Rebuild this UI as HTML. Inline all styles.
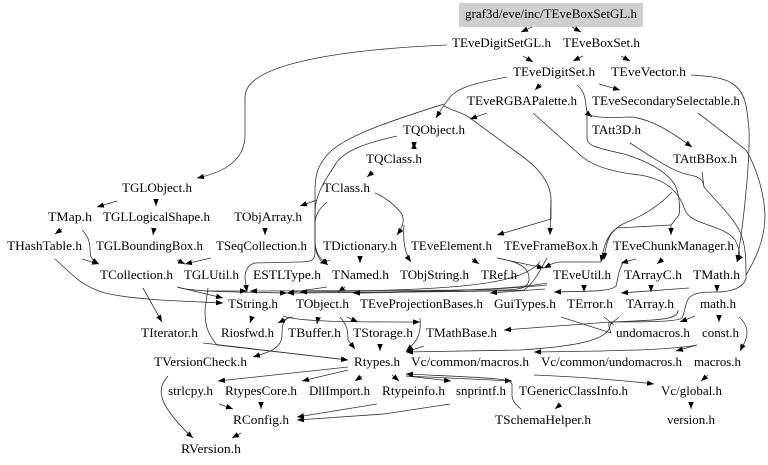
<!DOCTYPE html>
<html><head><meta charset="utf-8"><style>
html,body{margin:0;padding:0;background:#fff}
svg{display:block;filter:blur(.3px)}
text{font-family:"Liberation Serif",serif;font-size:12.8px;fill:#000;text-anchor:start}
path{fill:none;stroke:#333;stroke-width:.8}
</style></head><body>
<svg width="768" height="465" viewBox="0 0 768 465" xmlns="http://www.w3.org/2000/svg">
<defs><marker id="a" markerUnits="userSpaceOnUse" markerWidth="8" markerHeight="7" refX="7" refY="2.75" orient="auto"><polygon points="0,0 7,2.75 0,5.5" fill="#000"/></marker></defs>
<rect x="459" y="3" width="184" height="24" fill="#cfcfcf"/>
<g>
<path d="M532,27L521,32" marker-end="url(#a)"/>
<path d="M572,27L581,32" marker-end="url(#a)"/>
<path d="M523,56L533,62" marker-end="url(#a)"/>
<path d="M583,56L573,61" marker-end="url(#a)"/>
<path d="M621,56L630,61" marker-end="url(#a)"/>
<path d="M541,84L535,90" marker-end="url(#a)"/>
<path d="M599,84L620,90" marker-end="url(#a)"/>
<path d="M487,113L470,119" marker-end="url(#a)"/>
<path d="M447,45C400,47 245,55 245,97L245,135C245,160 225,172 197,178" marker-end="url(#a)"/>
<path d="M507,77C470,84 460,88 452,95C447,100 442,108 436,118" marker-end="url(#a)"/>
<path d="M444,104C400,118 345,135 328,154C318,165 315,175 315,190L315,240C315,250 318,258 328,265" marker-end="url(#a)"/>
<path d="M397,136C370,142 343,150 335,165C325,180 315,195 315,212L315,252C315,260 312,262 300,262L255,263C247,265 245,272 245,278L247,292" marker-end="url(#a)"/>
<path d="M444,106C455,112 462,112 470,118L519,154C535,165 551,180 551,200L551,219L497,235" marker-end="url(#a)"/>
<path d="M551,200L550,235" marker-end="url(#a)"/>
<path d="M533,113L579,154C590,165 610,172 640,175C670,180 680,195 685,210C690,225 725,225 735,240C740,250 741,255 737,262" marker-end="url(#a)"/>
<path d="M577,85C585,92 585,97 587,113L592,117"  marker-end="url(#a)"/>
<path d="M590,115C600,119 620,117 632,117C655,120 675,135 692,147" marker-end="url(#a)"/>
<path d="M587,113L587,137C587,145 592,147 624,154C650,162 667,172 675,185C680,195 680,210 679,215L671,225L671,235" marker-end="url(#a)"/>
<path d="M671,225L617,228C607,235 604,245 601,262" marker-end="url(#a)"/>
<path d="M672,192C660,205 645,215 625,223C610,230 606,240 604,260" marker-end="url(#a)"/>
<path d="M630,143L647,154C665,165 675,172 690,175C700,177 703,180 704,187"/>
<path d="M702,172L704,187C715,200 734,218 740,232C746,245 746,260 746,278C744,288 730,292 717,292C700,292 694,293 689,298C684,305 686,310 682,318C678,322 640,322 611,322L504,330" marker-end="url(#a)"/>
<path d="M691,75C710,76 725,78 733,84C745,92 747,105 749,130C750,155 745,215 737,262" marker-end="url(#a)"/>
<path d="M698,113L746,150C755,165 764,190 765,215C765,240 755,260 746,275"/>
<path d="M414,142L414,149" marker-end="url(#a)"/>
<path d="M414,149L414,142" marker-end="url(#a)"/>
<path d="M373,172L367,177" marker-end="url(#a)"/>
<path d="M317,200L300,206" marker-end="url(#a)"/>
<path d="M375,193C385,197 395,205 402,214C405,222 402,228 397,235" marker-end="url(#a)"/>
<path d="M404,225C403,240 404,252 411,262" marker-end="url(#a)"/>
<path d="M327,202C318,210 315,215 315,225L315,243C315,250 318,258 322,262"/>
<path d="M117,201L97,207" marker-end="url(#a)"/>
<path d="M156,200L156,206" marker-end="url(#a)"/>
<path d="M62,229L55,234" marker-end="url(#a)"/>
<path d="M154,228L153,235" marker-end="url(#a)"/>
<path d="M265,228L265,235" marker-end="url(#a)"/>
<path d="M82,230C88,236 90,242 90,250C90,258 92,260 99,264" marker-end="url(#a)"/>
<path d="M82,259L99,264" marker-end="url(#a)"/>
<path d="M211,258L185,264" marker-end="url(#a)"/>
<path d="M177,260L185,264" marker-end="url(#a)"/>
<path d="M55,259C70,272 80,286 105,293C135,300 180,301 223,303" marker-end="url(#a)"/>
<path d="M177,287L223,298" marker-end="url(#a)"/>
<path d="M177,287C190,292 240,292 287,293" marker-end="url(#a)"/>
<path d="M205,291L247,291" marker-end="url(#a)"/>
<path d="M327,287L287,293" marker-end="url(#a)"/>
<path d="M345,287L338,292" marker-end="url(#a)"/>
<path d="M360,257L360,263" marker-end="url(#a)"/>
<path d="M330,260L320,263" marker-end="url(#a)"/>
<path d="M472,259L479,264" marker-end="url(#a)"/>
<path d="M497,258C520,262 530,268 529,280C528,288 520,290 500,290L250,291" marker-end="url(#a)"/>
<path d="M497,258L544,268" marker-end="url(#a)"/>
<path d="M547,258C540,270 535,282 524,290C500,292 420,291 353,293" marker-end="url(#a)"/>
<path d="M547,285C500,290 420,292 287,293" marker-end="url(#a)"/>
<path d="M547,283C510,290 430,292 353,293" marker-end="url(#a)"/>
<path d="M545,289L490,293" marker-end="url(#a)"/>
<path d="M540,262C520,285 460,290 300,292" marker-end="url(#a)"/>
<path d="M601,262L560,262C552,263 550,265 544,268" marker-end="url(#a)"/>
<path d="M636,259L621,263" marker-end="url(#a)"/>
<path d="M624,261C618,270 618,280 616,286C610,292 590,291 554,292" marker-end="url(#a)"/>
<path d="M584,287L584,292" marker-end="url(#a)"/>
<path d="M651,287L651,292" marker-end="url(#a)"/>
<path d="M689,288L621,293" marker-end="url(#a)"/>
<path d="M663,259L657,264" marker-end="url(#a)"/>
<path d="M717,287L717,292" marker-end="url(#a)"/>
<path d="M143,288L162,322" marker-end="url(#a)"/>
<path d="M208,288L205,310C205,325 207,333 217,345L348,360" marker-end="url(#a)"/>
<path d="M203,343L348,360" marker-end="url(#a)"/>
<path d="M252,317L250,323" marker-end="url(#a)"/>
<path d="M293,317C284,318 282,322 282,335C282,348 270,352 253,357" marker-end="url(#a)"/>
<path d="M290,317L278,323" marker-end="url(#a)"/>
<path d="M318,318L317,324" marker-end="url(#a)"/>
<path d="M283,316C300,322 350,322 420,322" marker-end="url(#a)"/>
<path d="M347,317L358,322" marker-end="url(#a)"/>
<path d="M340,317C347,325 348,330 348,340L355,349" marker-end="url(#a)"/>
<path d="M380,345L380,351" marker-end="url(#a)"/>
<path d="M420,318C421,330 420,340 406,351" marker-end="url(#a)"/>
<path d="M424,346L406,352" marker-end="url(#a)"/>
<path d="M561,317L611,333C608,325 608,322 611,322"/>
<path d="M611,322C610,335 600,345 520,350L406,352" marker-end="url(#a)"/>
<path d="M678,310C678,320 660,320 611,322"/>
<path d="M604,317L614,325"/>
<path d="M619,317L611,324"/>
<path d="M695,316L680,322" marker-end="url(#a)"/>
<path d="M719,316L719,322" marker-end="url(#a)"/>
<path d="M739,317C745,322 747,328 747,333C747,340 743,345 740,351" marker-end="url(#a)"/>
<path d="M697,345L676,351" marker-end="url(#a)"/>
<path d="M697,345C670,350 620,351 534,352" marker-end="url(#a)"/>
<path d="M348,367L218,381" marker-end="url(#a)"/>
<path d="M348,370L302,381" marker-end="url(#a)"/>
<path d="M362,376L355,381" marker-end="url(#a)"/>
<path d="M392,375L399,381" marker-end="url(#a)"/>
<path d="M406,376L451,381" marker-end="url(#a)"/>
<path d="M406,376L512,381" marker-end="url(#a)"/>
<path d="M521,409C515,404 512,400 512,395L512,384C510,378 490,378 406,374" marker-end="url(#a)"/>
<path d="M534,375C580,377 620,380 654,384" marker-end="url(#a)"/>
<path d="M708,375L701,381" marker-end="url(#a)"/>
<path d="M691,403L691,409" marker-end="url(#a)"/>
<path d="M561,404L555,409" marker-end="url(#a)"/>
<path d="M377,404L297,417" marker-end="url(#a)"/>
<path d="M450,404L384,414L297,420" marker-end="url(#a)"/>
<path d="M219,404L233,409" marker-end="url(#a)"/>
<path d="M261,403L261,409" marker-end="url(#a)"/>
<path d="M241,433L232,438" marker-end="url(#a)"/>
<path d="M168,376C160,385 159,393 165,405C172,417 182,428 193,438" marker-end="url(#a)"/>
</g>
<text x="465" y="18" textLength="172" lengthAdjust="spacingAndGlyphs">graf3d/eve/inc/TEveBoxSetGL.h</text>
<text x="452" y="47" textLength="99" lengthAdjust="spacingAndGlyphs">TEveDigitSetGL.h</text>
<text x="563" y="47" textLength="77" lengthAdjust="spacingAndGlyphs">TEveBoxSet.h</text>
<text x="513" y="76" textLength="82" lengthAdjust="spacingAndGlyphs">TEveDigitSet.h</text>
<text x="611" y="76" textLength="75" lengthAdjust="spacingAndGlyphs">TEveVector.h</text>
<text x="467" y="105" textLength="110" lengthAdjust="spacingAndGlyphs">TEveRGBAPalette.h</text>
<text x="592" y="105" textLength="148" lengthAdjust="spacingAndGlyphs">TEveSecondarySelectable.h</text>
<text x="403" y="134" textLength="62" lengthAdjust="spacingAndGlyphs">TQObject.h</text>
<text x="592" y="134" textLength="49" lengthAdjust="spacingAndGlyphs">TAtt3D.h</text>
<text x="366" y="163" textLength="56" lengthAdjust="spacingAndGlyphs">TQClass.h</text>
<text x="673" y="163" textLength="64" lengthAdjust="spacingAndGlyphs">TAttBBox.h</text>
<text x="122" y="192" textLength="70" lengthAdjust="spacingAndGlyphs">TGLObject.h</text>
<text x="323" y="192" textLength="47" lengthAdjust="spacingAndGlyphs">TClass.h</text>
<text x="48" y="221" textLength="44" lengthAdjust="spacingAndGlyphs">TMap.h</text>
<text x="103" y="221" textLength="107" lengthAdjust="spacingAndGlyphs">TGLLogicalShape.h</text>
<text x="234" y="221" textLength="68" lengthAdjust="spacingAndGlyphs">TObjArray.h</text>
<text x="7" y="250" textLength="75" lengthAdjust="spacingAndGlyphs">THashTable.h</text>
<text x="96" y="250" textLength="107" lengthAdjust="spacingAndGlyphs">TGLBoundingBox.h</text>
<text x="216" y="250" textLength="91" lengthAdjust="spacingAndGlyphs">TSeqCollection.h</text>
<text x="323" y="250" textLength="74" lengthAdjust="spacingAndGlyphs">TDictionary.h</text>
<text x="411" y="250" textLength="81" lengthAdjust="spacingAndGlyphs">TEveElement.h</text>
<text x="504" y="250" textLength="94" lengthAdjust="spacingAndGlyphs">TEveFrameBox.h</text>
<text x="613" y="250" textLength="121" lengthAdjust="spacingAndGlyphs">TEveChunkManager.h</text>
<text x="100" y="279" textLength="73" lengthAdjust="spacingAndGlyphs">TCollection.h</text>
<text x="184" y="279" textLength="55" lengthAdjust="spacingAndGlyphs">TGLUtil.h</text>
<text x="253" y="279" textLength="68" lengthAdjust="spacingAndGlyphs">ESTLType.h</text>
<text x="332" y="279" textLength="57" lengthAdjust="spacingAndGlyphs">TNamed.h</text>
<text x="400" y="279" textLength="69" lengthAdjust="spacingAndGlyphs">TObjString.h</text>
<text x="481" y="279" textLength="36" lengthAdjust="spacingAndGlyphs">TRef.h</text>
<text x="553" y="279" textLength="58" lengthAdjust="spacingAndGlyphs">TEveUtil.h</text>
<text x="624" y="279" textLength="58" lengthAdjust="spacingAndGlyphs">TArrayC.h</text>
<text x="693" y="279" textLength="47" lengthAdjust="spacingAndGlyphs">TMath.h</text>
<text x="228" y="308" textLength="50" lengthAdjust="spacingAndGlyphs">TString.h</text>
<text x="296" y="308" textLength="53" lengthAdjust="spacingAndGlyphs">TObject.h</text>
<text x="360" y="308" textLength="123" lengthAdjust="spacingAndGlyphs">TEveProjectionBases.h</text>
<text x="494" y="308" textLength="62" lengthAdjust="spacingAndGlyphs">GuiTypes.h</text>
<text x="567" y="308" textLength="46" lengthAdjust="spacingAndGlyphs">TError.h</text>
<text x="626" y="308" textLength="48" lengthAdjust="spacingAndGlyphs">TArray.h</text>
<text x="700" y="308" textLength="36" lengthAdjust="spacingAndGlyphs">math.h</text>
<text x="141" y="337" textLength="57" lengthAdjust="spacingAndGlyphs">TIterator.h</text>
<text x="221" y="337" textLength="53" lengthAdjust="spacingAndGlyphs">Riosfwd.h</text>
<text x="288" y="337" textLength="53" lengthAdjust="spacingAndGlyphs">TBuffer.h</text>
<text x="353" y="337" textLength="60" lengthAdjust="spacingAndGlyphs">TStorage.h</text>
<text x="426" y="337" textLength="71" lengthAdjust="spacingAndGlyphs">TMathBase.h</text>
<text x="616" y="337" textLength="74" lengthAdjust="spacingAndGlyphs">undomacros.h</text>
<text x="702" y="337" textLength="37" lengthAdjust="spacingAndGlyphs">const.h</text>
<text x="154" y="366" textLength="93" lengthAdjust="spacingAndGlyphs">TVersionCheck.h</text>
<text x="354" y="366" textLength="46" lengthAdjust="spacingAndGlyphs">Rtypes.h</text>
<text x="411" y="366" textLength="118" lengthAdjust="spacingAndGlyphs">Vc/common/macros.h</text>
<text x="541" y="366" textLength="141" lengthAdjust="spacingAndGlyphs">Vc/common/undomacros.h</text>
<text x="694" y="366" textLength="47" lengthAdjust="spacingAndGlyphs">macros.h</text>
<text x="168" y="395" textLength="45" lengthAdjust="spacingAndGlyphs">strlcpy.h</text>
<text x="225" y="395" textLength="72" lengthAdjust="spacingAndGlyphs">RtypesCore.h</text>
<text x="309" y="395" textLength="61" lengthAdjust="spacingAndGlyphs">DllImport.h</text>
<text x="382" y="395" textLength="63" lengthAdjust="spacingAndGlyphs">Rtypeinfo.h</text>
<text x="456" y="395" textLength="50" lengthAdjust="spacingAndGlyphs">snprintf.h</text>
<text x="519" y="395" textLength="109" lengthAdjust="spacingAndGlyphs">TGenericClassInfo.h</text>
<text x="661" y="395" textLength="61" lengthAdjust="spacingAndGlyphs">Vc/global.h</text>
<text x="233" y="424" textLength="56" lengthAdjust="spacingAndGlyphs">RConfig.h</text>
<text x="495" y="424" textLength="96" lengthAdjust="spacingAndGlyphs">TSchemaHelper.h</text>
<text x="667" y="424" textLength="48" lengthAdjust="spacingAndGlyphs">version.h</text>
<text x="181" y="453" textLength="60" lengthAdjust="spacingAndGlyphs">RVersion.h</text>
</svg>
</body></html>
